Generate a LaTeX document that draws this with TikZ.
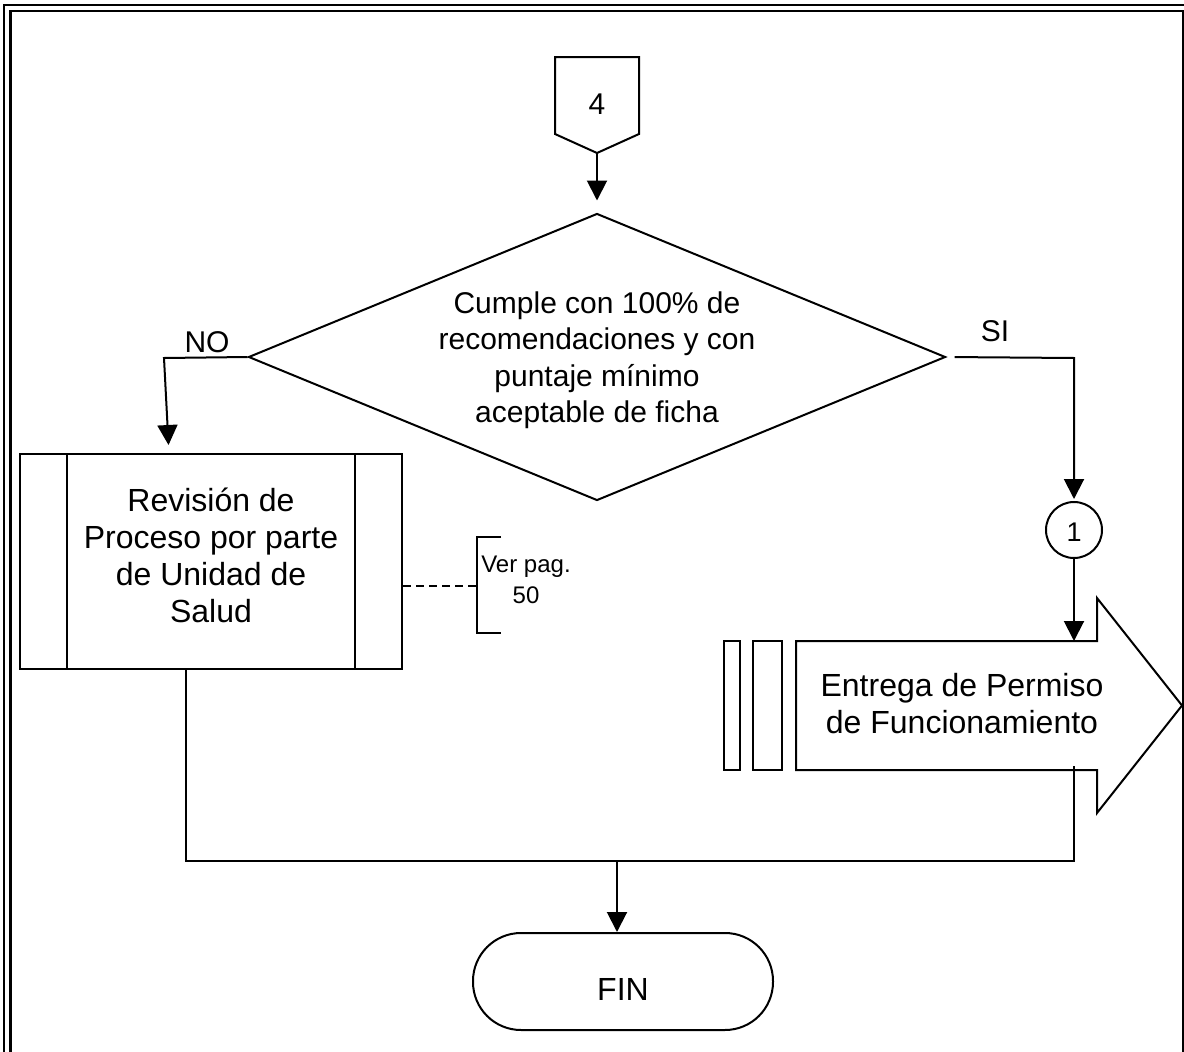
\documentclass[tikz,border=0pt]{standalone}
\usepackage{fontspec}
\setmainfont{Liberation Sans}
\usetikzlibrary{arrows.meta,shapes.geometric,calc}

\begin{document}
\begin{tikzpicture}[x=1pt,y=-1pt,line width=2pt,
  every node/.style={font=\fontsize{30}{36.5}\selectfont},
  bigtxt/.style={font=\fontsize{32}{37}\selectfont},
  smalltxt/.style={font=\fontsize{24}{31}\selectfont},
  arr/.style={-{Triangle[length=20pt,width=20pt]}},
  frameout/.style={line width=1.6pt},
  framein/.style={line width=2.6pt}]

\useasboundingbox (0,0) rectangle (1184,1052);
\clip (0,0) rectangle (1184,1052);

% double page frame
\draw[frameout] (4,5) rectangle (1190,1060);
\draw[framein] (10.5,11) rectangle (1183,1055);

% off-page connector 4
\draw (555,57) -- (639,57) -- (639,134) -- (597,153) -- (555,134) -- cycle;
\node (c4) at (597,104) {4};
\coordinate (c4tip) at (597,153);

% decision
\node[diamond,draw,minimum width=697pt,minimum height=287pt,inner sep=0pt] (dec) at (597,357) {};
\node[align=center] (dect) at (597,360) {Cumple con 100\% de\\recomendaciones y con\\puntaje mínimo\\aceptable de ficha};
\draw[arr,shorten >=12pt] (c4tip) -- (dec.north);

% NO branch
\node (no) at (207,342) {NO};
\coordinate (nobend) at (164,358);
\coordinate (noin) at (169,454);

% predefined process
\node[draw,minimum width=382pt,minimum height=215pt,inner sep=0pt] (proc) at (211,561.5) {};
\draw (67,454) -- (67,669);
\draw (355,454) -- (355,669);
\node[bigtxt,align=center] (proct) at (211,555) {Revisión de\\Proceso por parte\\de Unidad de\\Salud};
\draw[arr,shorten >=9pt] (dec.west) -- (nobend) -- (noin);

% reference bracket
\coordinate (brk) at (477,586);
\draw[dashed,line width=1.6pt,dash pattern=on 8pt off 5pt] (proc.east |- brk) -- (brk);
\draw (501,537) -- (477,537) -- (477,633) -- (501,633);
\node[smalltxt,align=center] (ver) at (526,580) {Ver pag.\\50};

% SI branch
\node (si) at (995,331) {SI};
\node[circle,draw,minimum size=56pt,inner sep=0pt,font=\fontsize{27}{30}\selectfont] (c1) at (1074,530) {\raisebox{-2pt}[\height][\depth]{1}};
\coordinate (sibend) at (1074,358);
\draw[arr,shorten <=8pt,shorten >=2pt] (dec.east) -- (sibend) -- (c1.north);

% delivery (arrow shaped) step
\draw (796,641) -- (1097,641) -- (1097,598) -- (1182,705.5) -- (1097,813) -- (1097,770) -- (796,770) -- cycle;
\draw (724,641) rectangle (740,770);
\draw (753,641) rectangle (782,770);
\node[bigtxt,align=center] (ent) at (962,704) {Entrega de Permiso\\de Funcionamiento};
\coordinate (enttop) at (1074,641);
\coordinate (entbot) at (1074,766);
\draw[arr] (c1.south) -- (enttop);

% merge and end
\node[draw,bigtxt,rounded corners=48pt,minimum width=300pt,minimum height=97pt,inner sep=0pt] (fin) at (623,981.5) {\raisebox{-8pt}[\height][\depth]{FIN}};
\coordinate (procout) at (186,669);
\coordinate (join) at (617,861);
\draw (procout) -- (186,861) -- (1074,861) -- (entbot);
\draw[arr] (join) -- (join |- fin.north);

\end{tikzpicture}
\end{document}
